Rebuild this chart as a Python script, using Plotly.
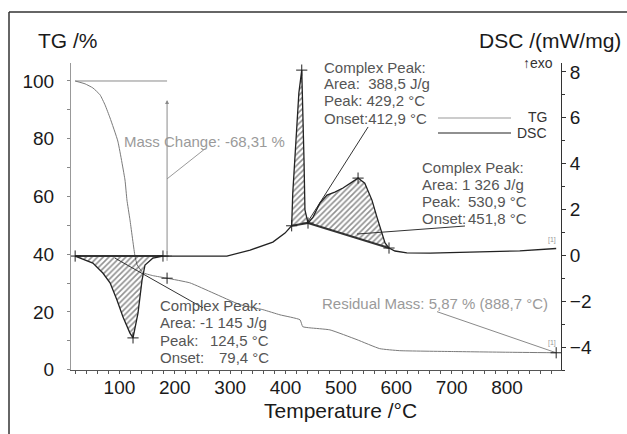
import numpy as np
import plotly.graph_objects as go

# ---------------- data ----------------
tg_T = [20, 38, 52, 65, 74, 83, 97, 110, 113.5, 119, 128, 132, 142.5, 160, 186,
        227, 269, 318, 359, 390, 426, 431, 444, 480, 529, 570, 606, 700, 800, 888.7]
tg_V = [100, 99.0, 97.6, 95.2, 91.7, 87.2, 79.2, 65.7, 58.8, 51.9, 39.4, 36.3, 33.6, 32.6, 31.69,
        30.1, 26.6, 22.5, 20.8, 19.0, 17.3, 14.9, 14.5, 13.8, 10.4, 7.3, 6.6, 6.3, 6.05, 5.87]

dsc_T = [20, 52, 70, 83, 95.5, 106.4, 119, 124.5, 133.5, 140.8, 146.2, 160.6, 178.6, 240, 294,
         336, 377, 399, 411, 413, 420.6, 424, 429.2, 431.5, 433.3, 435, 440.5, 449.6, 462,
         474.8, 489, 503.7, 520, 530.9, 543, 556, 565, 574, 579.6, 586.8, 597.6, 619, 661,
         751, 823, 888.7]
dsc_V = [-0.03, -0.34, -0.77, -1.2, -1.95, -2.69, -3.39, -3.6, -2.52, -1.08, -0.42, -0.12, -0.03,
         -0.03, -0.03, 0.23, 0.58, 0.97, 1.29, 2.72, 5.6, 7.08, 8.08, 6.34, 4.16, 1.98, 1.41,
         1.67, 2.28, 2.63, 2.76, 2.94, 3.2, 3.37, 3.15, 2.41, 1.67, 0.97, 0.54, 0.32, 0.19,
         0.11, 0.1, 0.15, 0.2, 0.3]

# integration limits of the evaluated DSC peaks (°C) and peak temperatures
peak_limits = [(20, 178.6), (411, 440.5), (440.5, 586.8)]
peak_temps = [124.5, 429.2, 530.9]

# mass change evaluation
mass_start_T = [20, 186]           # horizontal start-level line at 100 %
mass_arrow_T = 186
mass_arrow_tg = [39.4, 93.4]
tg_marks_T = [186, 888.7]

# leader lines (data coordinates)
mass_leader = ([186, 254.5], [66.1, 76.5])
resid_leader = ([673.5, 888.7], [20.1, 5.87])
endo_leader = ([91.9, 250.9], [-0.12, -2.29])
exo1_leader = ([438.7, 549], [1.41, 5.6])
exo2_leader = ([529, 724], [0.93, 1.28])

x_ticks = [100, 200, 300, 400, 500, 600, 700, 800]
tg_ticks = [0, 20, 40, 60, 80, 100]
dsc_ticks = [-4, -2, 0, 2, 4, 6, 8]

# ---------------- layout geometry ----------------
W, H = 627, 434
L, R, TOP, BOT = 71, 561, 63, 370
FONT = "Liberation Sans, Arial, sans-serif"


def px(x):
    return (x - L) / (R - L)


def py(y):
    return (BOT - y) / (BOT - TOP)


tgT = np.array(tg_T)
tgV = np.array(tg_V)
dT = np.array(dsc_T)
dV = np.array(dsc_V)

fig = go.Figure()

# hatched peak areas (curve closed by straight baseline)
for a, b in peak_limits:
    m = (dT >= a) & (dT <= b)
    fig.add_trace(go.Scatter(
        x=dT[m], y=dV[m], yaxis="y2", mode="lines", fill="toself",
        fillcolor="rgba(255,255,255,0)",
        fillpattern=dict(shape="/", fgcolor="#222", bgcolor="rgba(0,0,0,0)", size=4, solidity=0.4),
        line=dict(width=0), hoverinfo="skip", showlegend=False))

# baselines
for a, b in peak_limits:
    fig.add_trace(go.Scatter(
        x=[a, b], y=[np.interp(a, dT, dV), np.interp(b, dT, dV)], yaxis="y2",
        mode="lines", line=dict(color="#333", width=2), showlegend=False, hoverinfo="skip"))

# leader lines
for (xs, ys), ax, col in [(mass_leader, "y", "#9a9a9a"), (resid_leader, "y", "#8a8a8a"),
                          (endo_leader, "y2", "#333"), (exo1_leader, "y2", "#333"),
                          (exo2_leader, "y2", "#333")]:
    fig.add_trace(go.Scatter(x=xs, y=ys, yaxis=ax, mode="lines",
                             line=dict(color=col, width=1), showlegend=False, hoverinfo="skip"))

# mass change start level line
fig.add_trace(go.Scatter(x=mass_start_T, y=[tg_V[0], tg_V[0]], yaxis="y", mode="lines",
                         line=dict(color="#8a8a8a", width=1), showlegend=False, hoverinfo="skip"))
fig.add_trace(go.Scatter(x=[mass_arrow_T], y=[mass_arrow_tg[0]], yaxis="y", mode="markers",
                         marker=dict(symbol="cross-thin", size=7, line=dict(color="#999", width=1)),
                         showlegend=False, hoverinfo="skip"))

# curves
fig.add_trace(go.Scatter(x=tgT, y=tgV, yaxis="y", mode="lines", name="TG",
                         line=dict(color="#7a7a7a", width=1, shape="spline", smoothing=0.4),
                         showlegend=False))
fig.add_trace(go.Scatter(x=dT, y=dV, yaxis="y2", mode="lines", name="DSC",
                         line=dict(color="#222", width=1.3), showlegend=False))

# "+" markers
mk_T = [v for ab in peak_limits for v in ab] + peak_temps
mk_T = sorted(set(mk_T))
fig.add_trace(go.Scatter(x=mk_T, y=np.interp(mk_T, dT, dV), yaxis="y2", mode="markers",
                         marker=dict(symbol="cross-thin", size=8, line=dict(color="#222", width=1)),
                         showlegend=False, hoverinfo="skip"))
fig.add_trace(go.Scatter(x=tg_marks_T, y=np.interp(tg_marks_T, tgT, tgV), yaxis="y", mode="markers",
                         marker=dict(symbol="cross-thin", size=8, line=dict(color="#222", width=1)),
                         showlegend=False, hoverinfo="skip"))

ann = []
# mass change arrow
ann.append(dict(x=mass_arrow_T, y=mass_arrow_tg[1], xref="x", yref="y",
                ax=mass_arrow_T, ay=mass_arrow_tg[0], axref="x", ayref="y",
                showarrow=True, arrowhead=2, arrowsize=0.8, arrowwidth=1, arrowcolor="#8a8a8a", text=""))


def txt(x, y, s, size=15, color="#555", anchor="left"):
    ann.append(dict(x=px(x), y=py(y), xref="paper", yref="paper", text=s, showarrow=False,
                    xanchor=anchor, yanchor="middle", font=dict(family=FONT, size=size, color=color)))


# axis titles
txt(36, 41, "TG /%", size=21, color="#1a1a1a")
txt(623, 41, "DSC /(mW/mg)", size=21, color="#1a1a1a", anchor="right")
txt(340, 410, "Temperature /°C", size=21, color="#1a1a1a", anchor="center")
txt(555, 63, "↑exo", size=14, color="#333", anchor="right")

# evaluations
txt(122, 141, "Mass Change: -68,31 %", color="#9a9a9a")
txt(320, 303, "Residual Mass: 5,87 % (888,7 °C)", color="#9a9a9a")

txt(322, 67, "Complex Peak:")
txt(322, 83.5, "Area:  388,5 J/g")
txt(322, 100.5, "Peak: 429,2 °C")
txt(322, 118, "Onset:412,9 °C")

txt(420, 167, "Complex Peak:")
txt(420, 184, "Area: 1 326 J/g")
txt(420, 201.5, "Peak:")
txt(529, 201.5, "530,9 °C", anchor="right")
txt(420, 218.5, "Onset:")
txt(529, 218.5, "451,8 °C", anchor="right")

txt(158, 305, "Complex Peak:")
txt(158, 322.5, "Area: -1 145 J/g")
txt(158, 340, "Peak:")
txt(271, 340, "124,5 °C", anchor="right")
txt(158, 357, "Onset:")
txt(271, 357, "79,4 °C", anchor="right")

# legend
txt(549, 117, "TG", size=14, color="#333", anchor="right")
txt(549, 133, "DSC", size=14, color="#333", anchor="right")
txt(552, 240, "[1]", size=7, color="#999", anchor="center")
txt(552, 343, "[1]", size=7, color="#999", anchor="center")

shapes = [
    dict(type="line", xref="paper", yref="paper", x0=px(438), x1=px(511), y0=py(118), y1=py(118),
         line=dict(color="#bbbbbb", width=1.5)),
    dict(type="line", xref="paper", yref="paper", x0=px(438), x1=px(511), y0=py(133), y1=py(133),
         line=dict(color="#222", width=1.2)),
    # outer frame (top and left edges)
    dict(type="line", xref="paper", yref="paper", x0=px(9), x1=px(630), y0=py(12), y1=py(12),
         line=dict(color="#333", width=1.5)),
    dict(type="line", xref="paper", yref="paper", x0=px(9), x1=px(9), y0=py(12), y1=py(440),
         line=dict(color="#333", width=1.5)),
]

tickfont = dict(family=FONT, size=19, color="#1a1a1a")
fig.update_layout(
    width=W, height=H, margin=dict(l=L, r=W - R, t=TOP, b=H - BOT),
    paper_bgcolor="white", plot_bgcolor="white", showlegend=False,
    annotations=ann, shapes=shapes,
    xaxis=dict(range=[12.5, 897.4], tickvals=x_ticks, ticks="outside", ticklen=3, tickcolor="#555",
               showline=True, linecolor="#555", linewidth=1, showgrid=False, zeroline=False,
               tickfont=tickfont, ticklabelstandoff=-3,
               minor=dict(dtick=20, tick0=0, ticks="outside", ticklen=3, tickcolor="#555")),
    yaxis=dict(range=[-0.1, 106.23], tickvals=tg_ticks, ticks="outside", ticklen=3, tickcolor="#888",
               showline=True, linecolor="#999", linewidth=1, showgrid=False, zeroline=False,
               tickfont=tickfont, ticklabelstandoff=9,
               minor=dict(dtick=10, tick0=0, ticks="outside", ticklen=3, tickcolor="#888")),
    yaxis2=dict(range=[-5.0, 8.39], tickvals=dsc_ticks, overlaying="y", side="right",
                ticks="outside", ticklen=4, tickcolor="#333",
                showline=True, linecolor="#333", linewidth=1, showgrid=False, zeroline=False,
                tickfont=tickfont,
                minor=dict(dtick=1, tick0=0, ticks="outside", ticklen=3, tickcolor="#333")),
)

fig.write_html("out.html", config={"displayModeBar": False},
               post_script="document.body.style.margin='0';document.body.style.overflow='hidden';")
